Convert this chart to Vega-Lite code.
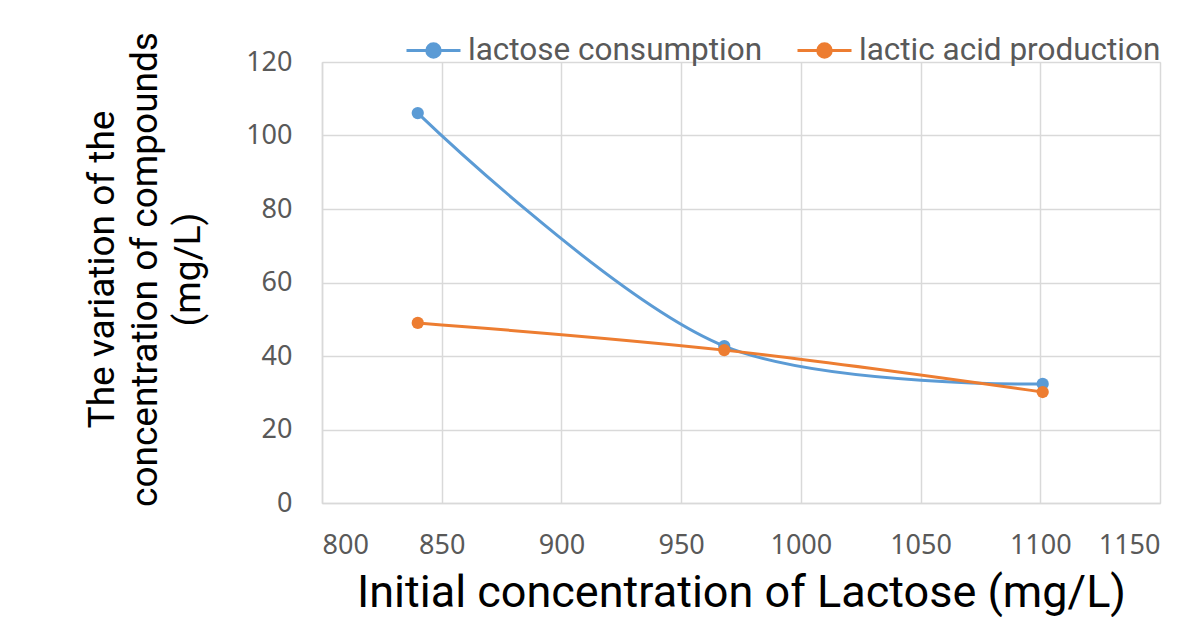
{
  "$schema": "https://vega.github.io/schema/vega-lite/v6.json",
  "width": 838,
  "height": 441,
  "autosize": {"type": "none"},
  "padding": {"left": 322, "top": 62, "right": 32, "bottom": 114},
  "background": "white",
  "data": {
    "values": [
      {"x": 840, "y": 106.1, "series": "lactose consumption"},
      {"x": 968, "y": 42.7, "series": "lactose consumption"},
      {"x": 1101, "y": 32.4, "series": "lactose consumption"},
      {"x": 840, "y": 49.0, "series": "lactic acid production"},
      {"x": 968, "y": 41.6, "series": "lactic acid production"},
      {"x": 1101, "y": 30.2, "series": "lactic acid production"}
    ]
  },
  "encoding": {
    "x": {
      "field": "x", "type": "quantitative",
      "scale": {"domain": [800, 1150], "nice": false, "zero": false},
      "axis": {
        "values": [800, 850, 900, 950, 1000, 1050, 1100, 1150],
        "format": "d",
        "title": "Initial concentration of Lactose (mg/L)",
        "titleFont": "Roboto", "titleFontSize": 45, "titleFontWeight": "normal", "titleColor": "#000000",
        "titlePadding": 12,
        "labelFont": "Noto Sans", "labelFontSize": 27, "labelColor": "#595959", "labelPadding": 29,
        "ticks": false, "domainColor": "#D9D9D9", "domainWidth": 1.5,
        "gridColor": "#D9D9D9", "gridWidth": 1.5
      }
    },
    "y": {
      "field": "y", "type": "quantitative",
      "scale": {"domain": [0, 120], "nice": false},
      "axis": {
        "values": [0, 20, 40, 60, 80, 100, 120],
        "title": ["The variation of the", "concentration of compounds", "(mg/L)"],
        "titleFont": "Roboto", "titleFontSize": 37, "titleFontWeight": "normal", "titleColor": "#000000",
        "titleLineHeight": 43, "titlePadding": 38, "titleY": 207,
        "labelFont": "Noto Sans", "labelFontSize": 27, "labelColor": "#595959", "labelPadding": 30,
        "ticks": false, "domainColor": "#D9D9D9", "domainWidth": 1.5,
        "gridColor": "#D9D9D9", "gridWidth": 1.5
      }
    },
    "color": {
      "field": "series", "type": "nominal",
      "scale": {"domain": ["lactose consumption", "lactic acid production"], "range": ["#5B9BD5", "#ED7D31"]},
      "legend": {
        "title": null, "orient": "none", "direction": "horizontal",
        "legendX": 83, "legendY": -40,
        "labelFont": "Roboto", "labelFontSize": 31.5, "labelColor": "#595959", "labelLimit": 0,
        "labelOffset": 6, "columnPadding": 28,
        "symbolType": "M-1,0L1,0M0.25,0A0.25,0.25 0 1,1 -0.25,0A0.25,0.25 0 1,1 0.25,0Z",
        "symbolSize": 2916, "symbolStrokeWidth": 3
      }
    }
  },
  "layer": [
    {"mark": {"type": "line", "interpolate": "catmull-rom", "strokeWidth": 3}},
    {"mark": {"type": "point", "filled": true, "size": 150, "opacity": 1}}
  ]
}
